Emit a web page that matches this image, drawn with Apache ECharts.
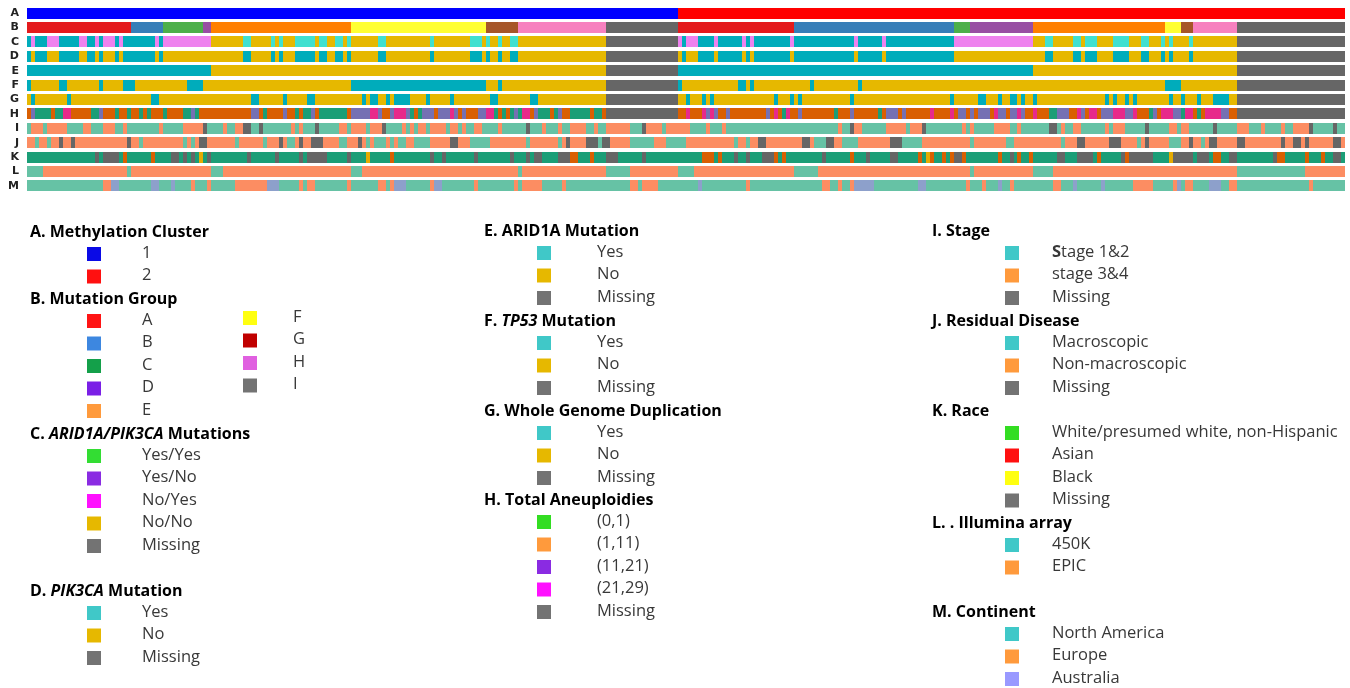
<!DOCTYPE html>
<html>
<head>
<meta charset="utf-8">
<script src="https://cdn.jsdelivr.net/npm/echarts@6/dist/echarts.min.js"></script>
<style>
  html, body { margin: 0; padding: 0; background: #ffffff; }
  #chart { width: 1350px; height: 688px; }
</style>
</head>
<body>
<div id="chart"></div>
<script>
// ---------------------------------------------------------------------------
// Sample annotation tracks (330 samples, ordered by methylation cluster).
// Each track is a run-length list of "category:endIndex" (end exclusive).
// ---------------------------------------------------------------------------
const sampleCount = 330;
const rowNames = ['A', 'B', 'C', 'D', 'E', 'F', 'G', 'H', 'I', 'J', 'K', 'L', 'M'];

const trackA = '1:163 2:330';
const trackB = 'A:26 B:34 C:44 D:46 E:81 F:115 G:123 H:145 I:163 A:192 B:232 C:236 D:252 E:285 F:289 G:292 H:303 I:330';
const trackC = 'YY:1 YN:2 YY:5 YN:8 YY:13 YN:15 YY:17 YN:18 YY:19 YN:22 YY:23 YN:24 YY:32 YN:33 YY:34 YN:46 NN:54 NY:56 NN:61 NY:62 NN:63 NY:64 NN:67 NY:72 NN:73 NY:75 NN:77 NY:79 NN:80 NY:81 NN:88 NY:90 NN:101 NY:102 NN:111 NY:114 NN:115 NY:116 NN:118 NY:119 NN:121 NY:123 NN:145 M:163 ' +
  'YN:164 YY:165 YN:168 YY:172 YN:173 YY:179 YN:180 YY:181 YN:182 YY:191 YN:192 YY:207 YN:208 YY:214 YN:215 YY:232 YN:252 NN:255 NY:257 NN:262 NY:264 NN:265 NY:268 NN:272 NY:276 NN:279 NY:281 NN:284 NY:285 NN:286 NY:287 NN:291 NY:292 NN:303 M:330';
const trackD = 'Y:1 N:2 Y:5 N:8 Y:13 N:15 Y:17 N:18 Y:19 N:22 Y:23 N:24 Y:32 N:33 Y:34 N:54 Y:56 N:61 Y:62 N:63 Y:64 N:67 Y:72 N:73 Y:75 N:77 Y:79 N:80 Y:81 N:88 Y:90 N:101 Y:102 N:111 Y:114 N:115 Y:116 N:118 Y:119 N:121 Y:123 N:145 M:163 ' +
  'N:164 Y:165 N:168 Y:172 N:173 Y:179 N:180 Y:181 N:182 Y:191 N:192 Y:207 N:208 Y:214 N:215 Y:232 N:255 Y:257 N:262 Y:264 N:265 Y:268 N:272 Y:276 N:279 Y:281 N:284 Y:285 N:286 Y:287 N:291 Y:292 N:303 M:330';
const trackE = 'Y:46 N:145 M:163 Y:252 N:303 M:330';
const trackF = 'Y:1 N:8 Y:10 N:18 Y:19 N:24 Y:27 N:40 Y:44 N:81 Y:115 N:118 Y:119 N:145 M:163 ' +
  'Y:164 N:178 Y:180 N:181 Y:182 N:196 Y:197 N:208 Y:209 N:285 Y:289 N:303 M:330';
const trackG = 'N:1 Y:2 N:10 Y:11 N:31 Y:33 N:56 Y:58 N:64 Y:65 N:70 Y:72 N:84 Y:85 N:86 Y:88 N:90 Y:91 N:92 Y:96 N:100 Y:101 N:106 Y:107 N:116 Y:118 N:126 Y:128 N:145 M:163 ' +
  'N:165 Y:166 N:169 Y:170 N:171 Y:172 N:187 Y:188 N:191 Y:192 N:193 Y:194 N:206 Y:207 N:231 Y:232 N:238 Y:240 N:243 Y:244 N:246 Y:248 N:249 Y:250 N:252 Y:253 N:270 Y:271 N:272 Y:273 N:275 Y:276 N:277 Y:278 N:286 Y:287 N:289 Y:290 N:293 Y:294 N:297 Y:301 N:303 M:330';
const trackH = 'b:1 c:2 a:6 b:7 a:9 d:11 b:16 a:18 c:19 b:22 a:23 b:25 a:26 b:28 a:29 b:30 a:31 b:34 a:35 b:39 a:41 c:42 a:43 b:56 c:58 b:59 a:60 b:64 c:65 b:67 a:68 b:69 a:71 c:72 b:73 a:80 b:81 c:86 d:88 c:89 b:91 c:92 d:95 c:96 a:97 b:98 a:99 c:102 b:103 c:106 d:107 c:108 b:109 c:110 b:113 c:115 d:117 a:118 b:119 a:120 b:121 a:122 c:123 a:124 d:126 b:127 c:128 a:131 b:132 a:133 c:134 b:136 a:141 b:142 a:144 b:145 M:163 ' +
  'b:165 d:166 b:169 d:170 c:171 d:172 c:173 b:175 c:176 b:185 c:186 b:187 d:188 b:189 a:190 d:191 b:193 c:194 b:202 a:203 b:206 c:207 b:213 a:214 b:215 c:218 b:219 c:220 b:226 d:227 b:231 d:232 b:233 c:235 b:236 c:237 b:238 c:241 b:242 d:243 c:245 b:246 c:248 d:249 c:250 b:252 d:253 b:256 a:258 c:261 b:263 d:264 c:265 b:266 d:268 b:269 c:272 d:275 c:277 d:278 b:281 a:282 c:283 b:284 d:287 c:289 a:290 d:292 b:293 a:294 b:295 d:299 c:301 b:303 M:330';
const trackI = 't:1 s:4 t:5 s:10 t:14 s:16 t:19 s:22 t:24 s:25 t:33 s:34 t:39 s:44 M:45 t:49 s:50 t:52 s:54 M:56 t:58 M:59 t:66 s:67 t:68 s:69 t:72 M:73 t:78 s:80 t:81 s:85 t:86 s:89 M:90 t:94 s:95 t:96 s:97 t:98 s:100 t:101 s:105 t:106 s:108 t:109 s:110 t:112 s:114 t:118 s:119 t:125 M:126 t:129 s:130 t:133 s:134 t:136 s:140 t:142 s:143 t:145 s:151 t:154 M:155 s:159 t:160 s:163 ' +
  's:166 t:170 s:171 t:174 s:175 t:203 s:204 t:206 M:207 s:209 t:215 s:220 t:221 s:224 M:225 t:234 s:235 t:236 s:237 t:242 s:246 t:248 s:249 t:256 M:258 t:259 s:260 t:262 s:264 t:270 s:271 t:272 s:275 t:280 M:281 t:286 s:288 t:289 s:291 t:297 M:298 t:303 s:306 t:309 s:310 t:314 s:315 t:317 s:321 M:322 t:327 M:328 t:330';
const trackJ = 's:2 t:3 s:5 t:6 s:8 M:9 s:11 M:12 s:25 M:26 s:28 t:29 s:39 t:40 s:41 t:42 s:43 M:45 s:52 t:53 s:59 t:60 s:63 M:64 s:65 t:67 s:68 M:69 s:71 M:74 s:78 t:80 s:83 M:84 s:85 t:86 s:87 t:90 s:91 t:92 s:93 t:95 s:97 t:101 s:106 M:108 s:111 t:116 s:125 t:126 s:133 t:134 s:135 M:136 s:140 M:143 t:144 M:146 s:151 t:157 s:160 t:163 ' +
  't:165 s:177 t:178 s:180 t:181 s:183 M:185 s:194 M:196 s:197 t:200 M:202 s:204 t:208 s:216 M:219 t:224 s:236 t:237 s:245 t:247 s:259 t:260 s:263 M:265 s:271 M:274 s:278 t:279 s:280 M:281 s:286 t:289 s:291 M:292 s:294 t:295 s:296 M:298 s:303 M:305 s:314 M:315 s:317 M:319 s:320 M:321 s:327 M:329 s:330';
const trackK = 'w:17 M:18 w:19 M:23 w:24 a:25 w:31 a:32 w:36 M:38 w:39 M:40 w:41 M:42 w:43 b:44 w:45 M:46 w:55 M:56 w:62 M:63 w:68 M:69 w:70 M:75 w:80 M:81 w:85 b:86 w:91 a:92 w:101 M:102 w:104 M:105 w:112 M:113 w:121 M:122 w:125 M:126 w:127 M:129 w:133 M:136 a:138 w:141 a:142 w:145 M:148 w:154 M:155 w:163 ' +
  'w:169 a:172 w:173 a:174 w:177 M:178 w:180 M:181 w:184 M:187 a:188 w:189 a:190 w:199 M:200 w:206 a:207 w:210 M:211 w:216 M:218 w:223 a:224 w:225 b:226 a:227 w:229 a:230 w:231 a:232 M:234 a:235 w:243 a:244 w:246 M:247 w:248 a:249 w:251 a:252 w:258 M:260 w:263 M:267 w:268 a:269 w:274 M:275 a:276 M:282 w:286 b:287 M:292 w:293 M:296 w:297 a:299 w:301 M:303 w:312 M:313 a:315 w:320 a:321 w:324 a:325 w:327 M:329 w:330';
const trackL = 't:4 e:25 t:26 e:46 t:49 e:81 t:84 e:123 t:124 e:145 t:151 e:163 t:167 e:192 t:198 e:236 t:237 e:252 t:257 e:303 t:320 e:330';
const trackM = 'n:19 e:21 a:23 n:31 a:33 n:36 a:37 n:41 e:42 n:45 e:46 n:52 e:60 a:63 n:68 e:69 n:70 e:72 n:80 e:81 n:88 e:90 n:91 e:92 a:95 n:101 e:102 a:104 n:112 e:113 n:122 e:123 n:124 e:129 n:134 e:135 n:151 e:153 n:154 e:158 n:163 ' +
  'n:168 a:169 n:180 e:181 n:199 e:201 n:203 e:204 n:206 e:207 a:212 n:223 a:225 n:235 e:236 n:239 e:240 n:243 a:244 n:246 e:247 n:257 e:259 n:262 a:263 n:269 a:270 n:277 e:282 n:287 e:288 a:289 n:290 e:292 n:296 a:299 n:301 e:303 n:321 e:322 n:330';

// Track fill colours per category code
const GREY = '#666666';
const yesNoColors = { Y: '#00acbb', N: '#e6b800', M: GREY };
const set2Colors = { t: '#66c2a5', s: '#fc8d62', M: GREY };
const trackDefs = [
  { runs: trackA, colors: { '1': '#0000ff', '2': '#ff0000' } },
  { runs: trackB, colors: { A: '#e41a1c', B: '#377eb8', C: '#4daf4a', D: '#984ea3', E: '#ff7f00', F: '#ffff33', G: '#a65628', H: '#f781bf', I: GREY } },
  { runs: trackC, colors: { YY: '#00acbb', YN: '#ee82ee', NY: '#40e0d0', NN: '#e6b800', M: GREY } },
  { runs: trackD, colors: yesNoColors },
  { runs: trackE, colors: yesNoColors },
  { runs: trackF, colors: yesNoColors },
  { runs: trackG, colors: yesNoColors },
  { runs: trackH, colors: { a: '#1b9e77', b: '#d95f02', c: '#7570b3', d: '#e7298a', M: GREY } },
  { runs: trackI, colors: set2Colors },
  { runs: trackJ, colors: set2Colors },
  { runs: trackK, colors: { w: '#1b9e77', a: '#d95f02', b: '#e6ab02', M: GREY } },
  { runs: trackL, colors: { t: '#66c2a5', e: '#fc8d62' } },
  { runs: trackM, colors: { n: '#66c2a5', e: '#fc8d62', a: '#8da0cb' } }
];

// Expand run strings into [start, end, row] items with a parallel colour list
const segData = [];
const segColors = [];
trackDefs.forEach((def, row) => {
  let start = 0;
  def.runs.trim().split(/\s+/).forEach(tok => {
    const [code, endStr] = tok.split(':');
    const end = Math.min(+endStr, sampleCount);
    if (end > start) {
      segData.push([start, end, row]);
      segColors.push(def.colors[code]);
    }
    start = end;
  });
});

// ---------------------------------------------------------------------------
// Legend content
// ---------------------------------------------------------------------------
const legendMethylation = [['1', '#0a0ae6'], ['2', '#ff1010']];
const legendMutationGroup = [['A', '#ff1414'], ['B', '#3d87e0'], ['C', '#14a04a'], ['D', '#7a1fe6'], ['E', '#ff9a3c'],
                             ['F', '#ffff10'], ['G', '#c00000'], ['H', '#e060e0'], ['I', '#737373']];
const legendArid1aPik3ca = [['Yes/Yes', '#33dd33'], ['Yes/No', '#8a2be2'], ['No/Yes', '#ff10ff'], ['No/No', '#e6b800'], ['Missing', '#737373']];
const legendYesNo = [['Yes', '#40c8c8'], ['No', '#e6b800'], ['Missing', '#737373']];
const legendAneuploidy = [['(0,1)', '#33dd22'], ['(1,11)', '#ff9a3c'], ['(11,21)', '#8a2be2'], ['(21,29)', '#ff10ff'], ['Missing', '#737373']];
const legendStage = [['{s|S}tage 1&2', '#40c8c8'], ['stage 3&4', '#ff9a3c'], ['Missing', '#737373']];
const legendResidual = [['Macroscopic', '#40c8c8'], ['Non-macroscopic', '#ff9a3c'], ['Missing', '#737373']];
const legendRace = [['White/presumed white, non-Hispanic', '#33dd22'], ['Asian', '#ff1010'], ['Black', '#ffff10'], ['Missing', '#737373']];
const legendArray = [['450K', '#40c8c8'], ['EPIC', '#ff9a3c']];
const legendContinent = [['North America', '#40c8c8'], ['Europe', '#ff9a3c'], ['Australia', '#9999ff']];

const legendTitles = {
  A: '{b|A. Methylation Cluster}',
  B: '{b|B. Mutation Group}',
  C: '{b|C. }{bi|ARID1A/PIK3CA}{b| Mutations}',
  D: '{b|D. }{bi|PIK3CA}{b| Mutation}',
  E: '{b|E. ARID1A Mutation}',
  F: '{b|F. }{bi|TP53}{b| Mutation}',
  G: '{b|G. Whole Genome Duplication}',
  H: '{b|H. Total Aneuploidies}',
  I: '{b|I. Stage}',
  J: '{b|J. Residual Disease}',
  K: '{b|K. Race}',
  L: '{b|L. . Illumina array}',
  M: '{b|M. Continent}'
};

// Legend layout: column anchors and block positions
const FONT = '"Open Sans", Lato, "Liberation Sans", sans-serif';
const TITLE_SIZE = 16;
const LABEL_SIZE = 16.5;
const columns = [
  { title: 30, swatch: 87, label: 142 },
  { title: 484, swatch: 537, label: 597 },
  { title: 932, swatch: 1005, label: 1052 }
];
const blocks = [
  { key: 'A', col: 0, y: 232, items: legendMethylation },
  { key: 'B', col: 0, y: 299, items: legendMutationGroup, split: 5, col2: { swatch: 243, label: 293 } },
  { key: 'C', col: 0, y: 434, items: legendArid1aPik3ca },
  { key: 'D', col: 0, y: 591, items: legendYesNo },
  { key: 'E', col: 1, y: 231, items: legendYesNo },
  { key: 'F', col: 1, y: 321, items: legendYesNo },
  { key: 'G', col: 1, y: 411, items: legendYesNo },
  { key: 'H', col: 1, y: 500, items: legendAneuploidy },
  { key: 'I', col: 2, y: 231, items: legendStage },
  { key: 'J', col: 2, y: 321, items: legendResidual },
  { key: 'K', col: 2, y: 411, items: legendRace },
  { key: 'L', col: 2, y: 523, items: legendArray },
  { key: 'M', col: 2, y: 612, items: legendContinent }
];

const richStyles = {
  b: { fontFamily: FONT, fontSize: TITLE_SIZE, fontWeight: 'bold', fill: '#000000', color: '#000000' },
  bi: { fontFamily: FONT, fontSize: TITLE_SIZE, fontWeight: 'bold', fontStyle: 'italic', fill: '#000000', color: '#000000' },
  s: { fontFamily: FONT, fontSize: LABEL_SIZE, fontWeight: 'bold', fill: '#383838', color: '#383838' }
};

const graphics = [];
blocks.forEach(bl => {
  const c = columns[bl.col];
  graphics.push({
    type: 'text', x: c.title, y: bl.y,
    style: { text: legendTitles[bl.key], rich: richStyles, verticalAlign: 'middle', align: 'left',
             font: 'bold ' + TITLE_SIZE + 'px ' + FONT, fill: '#000' }
  });
  bl.items.forEach((it, i) => {
    let sx = c.swatch, lx = c.label, idx = i;
    if (bl.split && i >= bl.split) { sx = bl.col2.swatch; lx = bl.col2.label; idx = i - bl.split; }
    const yy = bl.y + 21 + idx * 22.5 - (bl.split && i >= bl.split ? 3 : 0);
    graphics.push({
      type: 'rect', x: sx, y: yy - 6, shape: { x: 0, y: 0, width: 14, height: 14 },
      style: { fill: it[1] }
    });
    graphics.push({
      type: 'text', x: lx, y: yy,
      style: { text: it[0], rich: richStyles, verticalAlign: 'middle', align: 'left',
               font: LABEL_SIZE + 'px ' + FONT, fill: '#383838' }
    });
  });
});

// ---------------------------------------------------------------------------
// Chart
// ---------------------------------------------------------------------------
const chart = echarts.init(document.getElementById('chart'));
chart.setOption({
  animation: false,
  backgroundColor: '#ffffff',
  grid: { left: 27, right: 5, top: 6, height: 187 },
  xAxis: { type: 'value', min: 0, max: sampleCount, show: false },
  yAxis: {
    type: 'category', data: rowNames, inverse: true,
    axisLine: { show: false }, axisTick: { show: false }, splitLine: { show: false },
    axisLabel: { fontFamily: '"DejaVu Sans", sans-serif', fontWeight: 'bold', fontSize: 11, color: '#222', margin: 8 }
  },
  series: [{
    type: 'custom',
    data: segData,
    encode: { x: [0, 1], y: 2 },
    renderItem: function (params, api) {
      const row = api.value(2);
      const p0 = api.coord([api.value(0), row]);
      const p1 = api.coord([api.value(1), row]);
      const band = api.size([0, 1])[1];
      const h = Math.round(band * 0.76);
      const x0 = Math.round(p0[0]);
      const x1 = Math.round(p1[0]);
      return {
        type: 'rect',
        shape: { x: x0, y: Math.round(p0[1] - h / 2), width: x1 - x0, height: h },
        style: { fill: segColors[params.dataIndex] }
      };
    }
  }],
  graphic: graphics
});
</script>
</body>
</html>
